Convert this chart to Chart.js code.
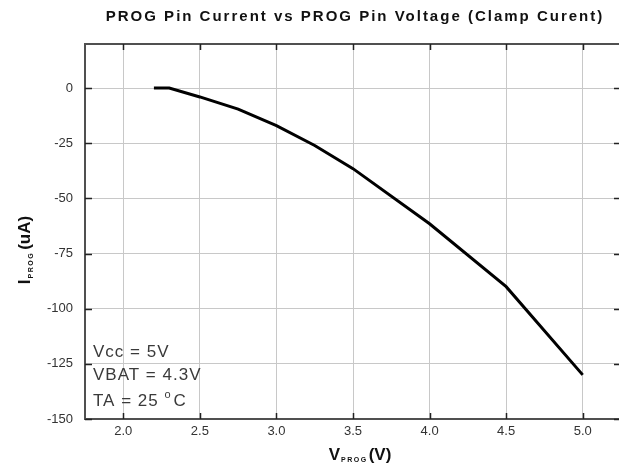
<!DOCTYPE html>
<html lang="en">
<head>
    <meta charset="UTF-8">
    <title>PROG Pin Current vs PROG Pin Voltage</title>
    <style>
        html, body { margin: 0; padding: 0; background: #ffffff; overflow: hidden; }
        /* a bit wider than the window: the plot frame sits just past the right edge */
        #wrap { position: absolute; left: 0; top: 0; width: 630px; height: 475px; }
    </style>
</head>
<body>
    <div id="wrap"><canvas id="progChart"></canvas></div>
    <script src="https://cdn.jsdelivr.net/npm/chart.js"></script>
    <script>
        // values
        const vProg = [2.2, 2.3, 2.5, 2.75, 3.0, 3.25, 3.5, 4.0, 4.5, 5.0];
        const iProg = [0, 0, -4, -9.5, -17, -26, -36.5, -61.5, -90, -130];

        const xRange = [1.75, 5.25];
        const yRange = [-150, 20];
        const xTicks = [2.0, 2.5, 3.0, 3.5, 4.0, 4.5, 5.0];
        const yTicks = [-150, -125, -100, -75, -50, -25, 0];

        const chartTitle = 'PROG Pin Current vs PROG Pin Voltage (Clamp Curent)';
        const notes = ['Vcc = 5V', 'VBAT = 4.3V', 'TA = 25 '];

        // draws title, axis titles with subscripts, the notes, the frame and inward ticks
        const decorations = {
            id: 'decorations',
            afterDraw(chart) {
                const ctx = chart.ctx;
                const area = chart.chartArea;
                const xs = chart.scales.x;
                const ys = chart.scales.y;

                // frame
                ctx.save();
                ctx.strokeStyle = '#505050';
                ctx.lineWidth = 2;
                ctx.strokeRect(area.left, area.top, area.right - area.left, area.bottom - area.top);

                // inward ticks
                ctx.strokeStyle = '#222';
                ctx.lineWidth = 1.5;
                ctx.beginPath();
                xs.ticks.forEach(t => {
                    const px = Math.round(xs.getPixelForValue(t.value)) + 0.5;
                    ctx.moveTo(px, area.bottom); ctx.lineTo(px, area.bottom - 6);
                    ctx.moveTo(px, area.top); ctx.lineTo(px, area.top + 6);
                });
                ys.ticks.forEach(t => {
                    const py = Math.round(ys.getPixelForValue(t.value)) + 0.5;
                    ctx.moveTo(area.left, py); ctx.lineTo(area.left + 7, py);
                    ctx.moveTo(area.right, py); ctx.lineTo(area.right - 7, py);
                });
                ctx.stroke();

                // title
                ctx.fillStyle = '#111';
                ctx.textBaseline = 'alphabetic';
                ctx.textAlign = 'left';
                ctx.font = 'bold 15px Arial, "Liberation Sans", sans-serif';
                ctx.letterSpacing = '2px';
                const tw = ctx.measureText(chartTitle).width;
                ctx.fillText(chartTitle, 355 - tw / 2, 21);

                // x axis title  V_PROG(V)
                const big = 'bold 17px Arial, "Liberation Sans", sans-serif';
                const small = 'bold 7px Arial, "Liberation Sans", sans-serif';
                ctx.letterSpacing = '0px';
                ctx.font = big;
                const wV = ctx.measureText('V').width;
                const wU = ctx.measureText('(V)').width;
                ctx.font = small;
                ctx.letterSpacing = '1.5px';
                const wS = ctx.measureText('PROG').width;
                let x0 = 360 - (wV + wS + wU + 2) / 2;
                ctx.letterSpacing = '0px';
                ctx.font = big;
                ctx.fillText('V', x0, 460);
                ctx.font = small;
                ctx.letterSpacing = '1.5px';
                ctx.fillText('PROG', x0 + wV + 1, 462);
                ctx.letterSpacing = '0px';
                ctx.font = big;
                ctx.fillText('(V)', x0 + wV + wS + 2, 460);

                // y axis title  I_PROG(uA), rotated
                ctx.save();
                ctx.translate(30, 250);
                ctx.rotate(-Math.PI / 2);
                ctx.font = big;
                const wI = ctx.measureText('I').width;
                const wA = ctx.measureText('(uA)').width;
                ctx.font = small;
                ctx.letterSpacing = '1.5px';
                const wS2 = ctx.measureText('PROG').width;
                ctx.letterSpacing = '0px';
                let y0 = -(wI + wS2 + wA + 3) / 2;
                ctx.font = big;
                ctx.fillText('I', y0, 0);
                ctx.font = small;
                ctx.letterSpacing = '1.5px';
                ctx.fillText('PROG', y0 + wI + 1, 3);
                ctx.letterSpacing = '0px';
                ctx.font = big;
                ctx.fillText('(uA)', y0 + wI + wS2 + 3, 0);
                ctx.restore();

                // notes
                ctx.fillStyle = '#3a3a3a';
                ctx.font = '17px Arial, "Liberation Sans", sans-serif';
                ctx.letterSpacing = '1px';
                const baselines = [357, 380, 406];
                notes.forEach((s, i) => ctx.fillText(s, area.left + 8, baselines[i]));
                const wT = ctx.measureText(notes[2]).width;
                ctx.font = '11px Arial, "Liberation Sans", sans-serif';
                ctx.fillText('o', area.left + 8 + wT, 398);
                const wo = ctx.measureText('o').width;
                ctx.font = '17px Arial, "Liberation Sans", sans-serif';
                ctx.fillText('C', area.left + 8 + wT + wo + 2, 406);
                ctx.restore();
            }
        };

        const points = vProg.map((v, i) => ({ x: v, y: iProg[i] }));
        const tickFont = { family: 'Arial, "Liberation Sans", sans-serif', size: 13 };

        new Chart(document.getElementById('progChart').getContext('2d'), {
            type: 'scatter',
            data: {
                datasets: [{
                    data: points,
                    showLine: true,
                    borderColor: '#000',
                    borderWidth: 3,
                    pointRadius: 0,
                    tension: 0,
                    fill: false
                }]
            },
            options: {
                responsive: true,
                maintainAspectRatio: false,
                animation: false,
                events: [],
                layout: { padding: { top: 44, right: 9, left: 0, bottom: 0 } },
                plugins: {
                    legend: { display: false },
                    title: { display: false },
                    tooltip: { enabled: false }
                },
                scales: {
                    x: {
                        type: 'linear',
                        min: xRange[0],
                        max: xRange[1],
                        afterBuildTicks: s => { s.ticks = xTicks.map(v => ({ value: v })); },
                        afterFit: s => { s.height = 56; },
                        ticks: {
                            padding: 5,
                            color: '#333',
                            font: tickFont,
                            callback: v => v.toFixed(1)
                        },
                        grid: { color: '#c8c8c8', lineWidth: 1, drawTicks: false },
                        border: { display: false }
                    },
                    y: {
                        type: 'linear',
                        min: yRange[0],
                        max: yRange[1],
                        afterBuildTicks: s => { s.ticks = yTicks.map(v => ({ value: v })); },
                        afterFit: s => { s.width = 85; },
                        ticks: {
                            padding: 12,
                            color: '#333',
                            font: tickFont
                        },
                        grid: { color: '#c8c8c8', lineWidth: 1, drawTicks: false },
                        border: { display: false }
                    }
                }
            },
            plugins: [decorations]
        });
    </script>
</body>
</html>
